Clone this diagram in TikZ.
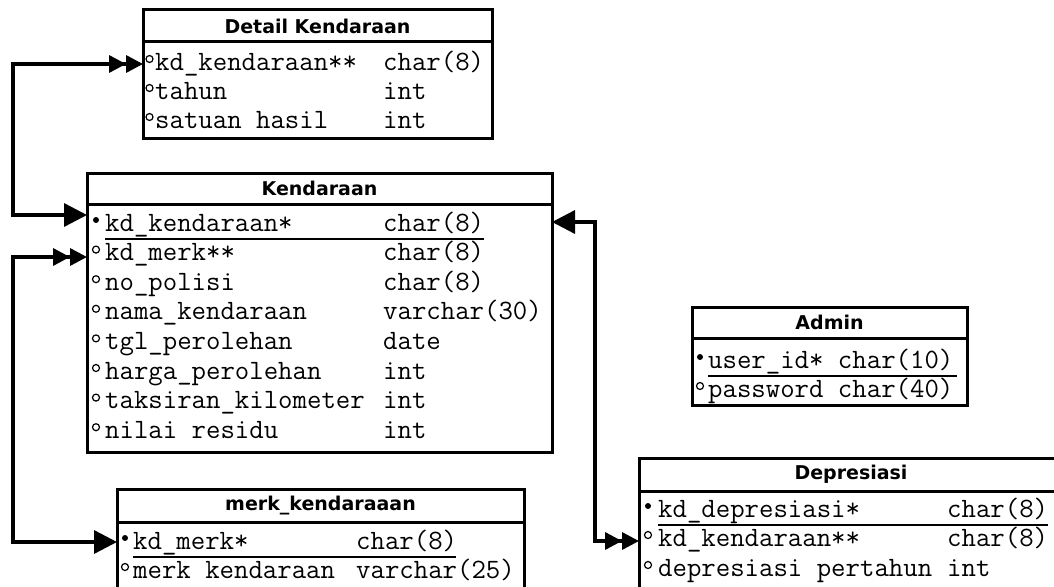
\documentclass[tikz,border=0pt]{standalone}
\usepackage{fontspec}
\newfontfamily\hdrfont{DejaVu Sans}
\usetikzlibrary{arrows.meta}
\begin{document}
\begin{tikzpicture}[x=1pt,y=-1pt,
  tbl/.style={draw, line width=3pt, anchor=north west, inner sep=0pt, outer sep=0pt},
  hdr/.style={font=\hdrfont\bfseries\fontsize{19}{21}\selectfont, inner sep=0pt},
  fld/.style={font=\ttfamily\fontsize{28}{30}\selectfont, anchor=mid west, inner sep=0pt},
  divline/.style={line width=3pt},
  conn/.style={line width=3.4pt},
  pkmark/.style={fill, circle, inner sep=0pt, minimum size=6pt},
  fkmark/.style={draw, circle, line width=1.2pt, inner sep=0pt, minimum size=7pt},
  uline/.style={line width=1.2pt},
  dblone/.style={{Triangle[length=17pt,width=17pt]Triangle[length=17pt,width=17pt]}-{Triangle[length=23pt,width=23pt]}},
  onedbl/.style={{Triangle[length=23pt,width=23pt]}-{Triangle[length=17pt,width=17pt]Triangle[length=17pt,width=17pt]}}
]
\useasboundingbox (0,0) rectangle (1054,586);
\clip (0,0) rectangle (1054,586);

% ---------- Detail Kendaraan ----------
\node[tbl, minimum width=349pt, minimum height=128pt] (detail) at (143,10) {};
\node[hdr] (detailT) at (317.5,26) {Detail Kendaraan};
\draw[divline] (detail.west |- 0,42) -- (detail.east |- 0,42);
\node[fkmark] (dm1) at (149.5,59) {};
\node[fld] (dn1) at (155,68) {kd\_kendaraan**};
\node[fld] (dt1) at (383,68) {char(8)};
\node[fkmark] (dm2) at (149.5,88) {};
\node[fld] (dn2) at (155,97) {tahun};
\node[fld] (dt2) at (383,97) {int};
\node[fkmark] (dm3) at (149.5,117) {};
\node[fld] (dn3) at (155,126) {satuan hasil};
\node[fld] (dt3) at (383,126) {int};

% ---------- Kendaraan ----------
\node[tbl, minimum width=465pt, minimum height=279pt] (kend) at (87,173) {};
\node[hdr] (kendT) at (319.5,188.5) {Kendaraan};
\draw[divline] (kend.west |- 0,204) -- (kend.east |- 0,204);
\node[pkmark] (km1) at (96,220) {};
\node[fld] (kn1) at (105,229) {kd\_kendaraan*};
\node[fld] (kt1) at (383,229) {char(8)};
\draw[uline] (105,239) -- (484,239);
\node[fkmark] (km2) at (96,249.6) {};
\node[fld] (kn2) at (105,258.6) {kd\_merk**};
\node[fld] (kt2) at (383,258.6) {char(8)};
\node[fkmark] (km3) at (96,279.2) {};
\node[fld] (kn3) at (105,288.2) {no\_polisi};
\node[fld] (kt3) at (383,288.2) {char(8)};
\node[fkmark] (km4) at (96,308.8) {};
\node[fld] (kn4) at (105,317.8) {nama\_kendaraan};
\node[fld] (kt4) at (383,317.8) {varchar(30)};
\node[fkmark] (km5) at (96,338.4) {};
\node[fld] (kn5) at (105,347.4) {tgl\_perolehan};
\node[fld] (kt5) at (383,347.4) {date};
\node[fkmark] (km6) at (96,368) {};
\node[fld] (kn6) at (105,377) {harga\_perolehan};
\node[fld] (kt6) at (383,377) {int};
\node[fkmark] (km7) at (96,397.6) {};
\node[fld] (kn7) at (105,406.6) {taksiran\_kilometer};
\node[fld] (kt7) at (383,406.6) {int};
\node[fkmark] (km8) at (96,427.2) {};
\node[fld] (kn8) at (105,436.2) {nilai residu};
\node[fld] (kt8) at (383,436.2) {int};

% ---------- merk_kendaraaan ----------
\node[tbl, minimum width=407pt, minimum height=120pt] (merk) at (117,489) {};
\node[hdr] (merkT) at (320.5,505.5) {merk\_kendaraaan};
\draw[divline] (merk.west |- 0,522) -- (merk.east |- 0,522);
\node[pkmark] (mm1) at (125,538) {};
\node[fld] (mn1) at (133,547) {kd\_merk*};
\node[fld] (mt1) at (356,547) {char(8)};
\draw[uline] (133,557) -- (456,557);
\node[fkmark] (mm2) at (125,567) {};
\node[fld] (mn2) at (133,576) {merk kendaraan};
\node[fld] (mt2) at (356,576) {varchar(25)};

% ---------- Admin ----------
\node[tbl, minimum width=275pt, minimum height=98pt] (admin) at (692,307) {};
\node[hdr] (adminT) at (829.5,322.5) {Admin};
\draw[divline] (admin.west |- 0,338) -- (admin.east |- 0,338);
\node[pkmark] (am1) at (700,357) {};
\node[fld] (an1) at (708,366) {user\_id* char(10)};
\draw[uline] (708,376) -- (957,376);
\node[fkmark] (am2) at (700,386) {};
\node[fld] (an2) at (708,395) {password char(40)};

% ---------- Depresiasi ----------
\node[tbl, minimum width=424pt, minimum height=150pt] (depr) at (639,458) {};
\node[hdr] (deprT) at (851,474.5) {Depresiasi};
\draw[divline] (depr.west |- 0,491) -- (depr.east |- 0,491);
\node[pkmark] (pm1) at (648,506) {};
\node[fld] (pn1) at (658,515) {kd\_depresiasi*};
\node[fld] (pt1) at (947,515) {char(8)};
\draw[uline] (658,525) -- (1048,525);
\node[fkmark] (pm2) at (648,535) {};
\node[fld] (pn2) at (658,544) {kd\_kendaraan**};
\node[fld] (pt2) at (947,544) {char(8)};
\node[fkmark] (pm3) at (648,565) {};
\node[fld] (pn3) at (658,574) {depresiasi pertahun};
\node[fld] (pt3) at (947,574) {int};

% ---------- connectors ----------
\coordinate (cDetail) at (detail.west |- 0,64);
\coordinate (cKendA) at (kend.west |- 0,215);
\coordinate (cKendB) at (kend.west |- 0,257);
\coordinate (cMerk) at (merk.west |- 0,542);
\coordinate (cKendC) at (kend.east |- 0,222);
\coordinate (cDepr) at (depr.west |- 0,541);

\draw[conn, dblone] (cDetail) -- (13,64) |- (cKendA);
\draw[conn, dblone] (cKendB) -- (13,257) |- (cMerk);
\draw[conn, onedbl] (cKendC) -- (595,222) |- (cDepr);
\end{tikzpicture}
\end{document}
